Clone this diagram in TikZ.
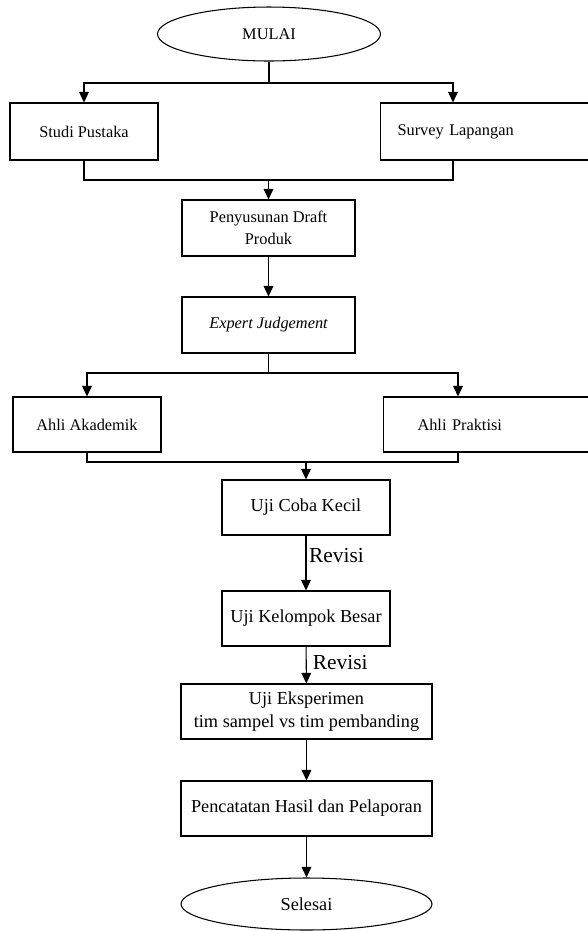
\documentclass[tikz,border=0pt]{standalone}
\usepackage{fontspec}
\setmainfont{Liberation Serif}
\usepackage{tikz}
\usetikzlibrary{shapes.geometric, arrows.meta, positioning}

\begin{document}
\begin{tikzpicture}
	[   x=0.02cm, y=-0.02cm, line width=0.6pt,
	    pbox/.style={draw=black,fill=white,rectangle,minimum width=#1,minimum height=1.1cm,inner sep=2pt,align=center},
	    tnode/.style={draw=black,fill=white,ellipse,minimum width=#1,minimum height=1.08cm,inner sep=0pt},
	    small/.style={font=\fontsize{9.3}{12.3}\selectfont},
	    big/.style={font=\fontsize{10.4}{13}\selectfont},
	]
	\tikzset{normal arrow/.style={draw,-{Triangle[length=6pt,width=5.5pt]}}}
	\useasboundingbox (0,0) rectangle (588,931);
	
	% upper part
	\node[tnode=4.46cm,small] (mulai) at (269,34) {MULAI};
	\node[pbox=2.96cm,small,minimum height=1.14cm] (studi) at (84,131.5) {Studi Pustaka};
	\node[pbox=2.96cm,small,minimum height=1.14cm,anchor=west,text width=5cm,align=left,inner xsep=0.34cm] (survey) at (380,131.5) {Survey Lapangan};
	\node[pbox=3.46cm,small,minimum height=1.12cm] (draft) at (268.5,228) {Penyusunan Draft\\Produk};
	\node[pbox=3.46cm,small,minimum height=1.12cm] (expert) at (268.5,325) {\itshape Expert Judgement};
	\node[pbox=2.96cm,small] (akademik) at (87,424.5) {Ahli Akademik};
	\node[pbox=2.96cm,small,anchor=west,text width=5cm,align=left,inner xsep=0.68cm] (praktisi) at (383,424.5) {Ahli Praktisi};
	
	% lower part
	\node[pbox=3.36cm,big] (kecil) at (306,507.5) {Uji Coba Kecil};
	\node[pbox=3.36cm,big] (besar) at (306,618.5) {Uji Kelompok Besar};
	\node[pbox=5.02cm,big] (eksperimen) at (306.5,711.5) {Uji Eksperimen\\tim sampel vs tim pembanding};
	\node[pbox=5.02cm,big] (laporan) at (306.5,808.5) {Pencatatan Hasil dan Pelaporan};
	\node[tnode=5.02cm,big,minimum height=1.04cm] (selesai) at (306.5,904) {Selesai};
	
	\coordinate (survey-t) at ([xshift=1.46cm]survey.north west);
	\coordinate (survey-b) at ([xshift=1.46cm]survey.south west);
	\coordinate (praktisi-t) at ([xshift=1.5cm]praktisi.north west);
	\coordinate (praktisi-b) at ([xshift=1.5cm]praktisi.south west);
	\coordinate (s-1) at (269,83);
	\coordinate (j-1) at (268.5,180);
	\coordinate (s-2) at (268.5,373);
	\coordinate (j-2) at (306,462);
	
	% branches
	\draw (mulai) -- (s-1);
	\path[normal arrow] (s-1) -| (studi.north);
	\path[normal arrow] (s-1) -| (survey-t);
	\draw (studi.south) |- (j-1) -| (survey-b);
	\path[normal arrow] (j-1) -- (draft);
	
	\draw (expert) -- (s-2);
	\path[normal arrow] (s-2) -| (akademik.north);
	\path[normal arrow] (s-2) -| (praktisi-t);
	\draw (akademik.south) |- (j-2) -| (praktisi-b);
	\path[normal arrow] (j-2) -- (kecil);
	
	% straight steps
	\foreach \a/\b in {draft/expert, eksperimen/laporan, laporan/selesai}
	{
		\path[normal arrow] (\a) -- (\b);
	}
	\path[normal arrow] (kecil) -- node[right,pos=0.36,inner sep=1.5pt,font=\fontsize{12.2}{14}\selectfont] {Revisi} (besar);
	\path[normal arrow] (besar) -- node[right,pos=0.42,inner sep=3.5pt,font=\fontsize{12.2}{14}\selectfont] {Revisi} (eksperimen);
\end{tikzpicture}
\end{document}
